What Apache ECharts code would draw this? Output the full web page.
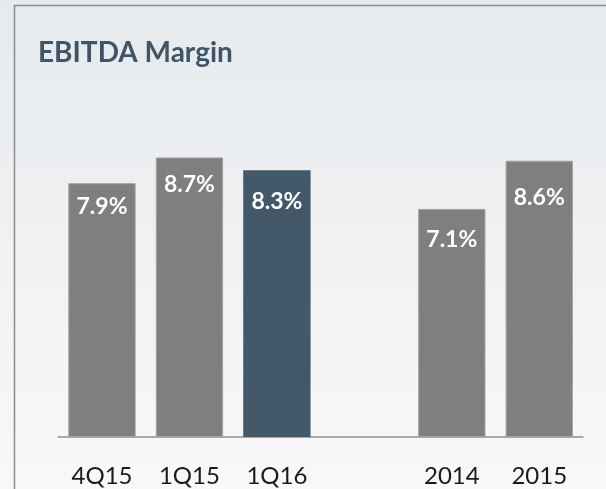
<!DOCTYPE html>
<html>
<head>
<meta charset="utf-8">
<title>EBITDA Margin</title>
<script src="https://cdn.jsdelivr.net/npm/echarts@6/dist/echarts.min.js"></script>
<style>
  html, body { margin: 0; padding: 0; overflow: hidden; }
  #chart { width: 606px; height: 489px; }
</style>
</head>
<body>
<div id="chart"></div>
<script>
// Periods shown on the x axis; the blank entry separates quarters from full years
const periods = ['4Q15', '1Q15', '1Q16', '', '2014', '2015'];
// EBITDA margin, percent
const marginPct = [7.9, 8.7, 8.3, null, 7.1, 8.6];
// Current quarter, drawn in the accent colour
const currentPeriod = '1Q16';

// Gap between each bar's top and its value label (px)
const labelGap = [11.5, 15.5, 20, 0, 19, 25.5];

const GRAY = '#7f7f7f';
const ACCENT = '#435869';

const chart = echarts.init(document.getElementById('chart'), null, { renderer: 'canvas' });

const barData = marginPct.map((v, i) => ({
  value: v,
  itemStyle: periods[i] === currentPeriod
    ? { color: ACCENT, borderColor: ACCENT, borderWidth: 0 }
    : { color: GRAY, borderColor: '#a3a3a3', borderWidth: 1 },
  label: { distance: labelGap[i] }
}));

chart.setOption({
  animation: false,
  backgroundColor: new echarts.graphic.LinearGradient(0, 0, 0, 1, [
    { offset: 0, color: '#e6eaec' },
    { offset: 1, color: '#f8f8f9' }
  ]),
  graphic: [
    {
      // panel frame: left and top edges only, the rest runs off the page
      type: 'polyline',
      shape: { points: [[14.5, 700], [14.5, 5.5], [800, 5.5]] },
      style: { fill: null, stroke: '#8b8b8b', lineWidth: 1.5 },
      z: 10,
      silent: true
    }
  ],
  title: {
    text: 'EBITDA Margin',
    left: 33,
    top: 34,
    textStyle: {
      fontFamily: 'Lato',
      fontWeight: 'bold',
      fontSize: 28,
      color: '#3f5567'
    }
  },
  grid: { left: 58.25, right: 23, top: 115.7, bottom: 52 },
  xAxis: {
    type: 'category',
    data: periods,
    axisLine: { show: true, lineStyle: { color: '#909090', width: 1.5 } },
    axisTick: { show: false },
    axisLabel: {
      margin: 27,
      fontFamily: 'Lato',
      fontSize: 24,
      color: '#1a1a1a',
      interval: 0
    },
    splitLine: { show: false }
  },
  yAxis: {
    type: 'value',
    min: 0,
    max: 10,
    show: false,
    splitLine: { show: false }
  },
  series: [
    {
      type: 'bar',
      data: barData,
      barWidth: '77%',
      label: {
        show: true,
        position: 'insideTop',
        fontFamily: 'Lato',
        fontWeight: 'bold',
        fontSize: 23,
        color: '#ffffff',
        formatter: p => p.value == null ? '' : p.value.toFixed(1) + '%'
      }
    }
  ]
});
</script>
</body>
</html>
